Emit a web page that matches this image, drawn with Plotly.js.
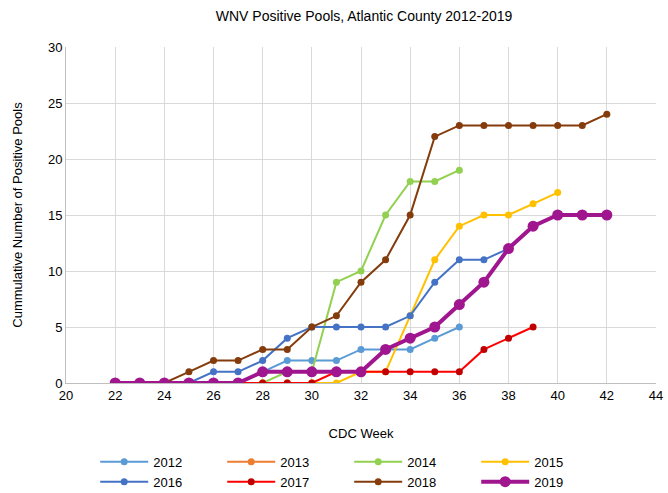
<!DOCTYPE html>
<html>
<head>
<meta charset="utf-8">
<script src="https://cdn.plot.ly/plotly-3.0.1.min.js"></script>
<style>
  body { margin: 0; background: #fff; }
  #plotArea { width: 668px; height: 493px; }
</style>
</head>
<body>
<div id="plotArea"></div>
<script>
// weeks and cumulative positive pools per season
var weeks2012 = [22, 23, 24, 25, 26, 27, 28, 29, 30, 31, 32, 33, 34, 35, 36];
var pools2012 = [0, 0, 0, 0, 0, 0, 1, 2, 2, 2, 3, 3, 3, 4, 5];

var weeks2013 = [22, 23, 24, 25, 26, 27, 28, 29, 30];
var pools2013 = [0, 0, 0, 0, 0, 0, 0, 0, 0];

var weeks2014 = [22, 23, 24, 25, 26, 27, 28, 29, 30, 31, 32, 33, 34, 35, 36];
var pools2014 = [0, 0, 0, 0, 0, 0, 0, 1, 1, 9, 10, 15, 18, 18, 19];

var weeks2015 = [22, 23, 24, 25, 26, 27, 28, 29, 30, 31, 32, 33, 34, 35, 36, 37, 38, 39, 40];
var pools2015 = [0, 0, 0, 0, 0, 0, 0, 0, 0, 0, 1, 1, 6, 11, 14, 15, 15, 16, 17];

var weeks2016 = [22, 23, 24, 25, 26, 27, 28, 29, 30, 31, 32, 33, 34, 35, 36, 37, 38];
var pools2016 = [0, 0, 0, 0, 1, 1, 2, 4, 5, 5, 5, 5, 6, 9, 11, 11, 12];

var weeks2017 = [22, 23, 24, 25, 26, 27, 28, 29, 30, 31, 32, 33, 34, 35, 36, 37, 38, 39];
var pools2017 = [0, 0, 0, 0, 0, 0, 0, 0, 0, 1, 1, 1, 1, 1, 1, 3, 4, 5];

var weeks2018 = [22, 23, 24, 25, 26, 27, 28, 29, 30, 31, 32, 33, 34, 35, 36, 37, 38, 39, 40, 41, 42];
var pools2018 = [0, 0, 0, 1, 2, 2, 3, 3, 5, 6, 9, 11, 15, 22, 23, 23, 23, 23, 23, 23, 24];

var weeks2019 = [22, 23, 24, 25, 26, 27, 28, 29, 30, 31, 32, 33, 34, 35, 36, 37, 38, 39, 40, 41, 42];
var pools2019 = [0, 0, 0, 0, 0, 0, 1, 1, 1, 1, 1, 3, 4, 5, 7, 9, 12, 14, 15, 15, 15];

function season(name, x, y, lineColor, markerColor, width, size) {
    return {
        x: x,
        y: y,
        name: name,
        type: "scatter",
        mode: "lines+markers",
        line: {color: lineColor, width: width},
        marker: {color: markerColor, size: size}
    };
}

var data = [
    season("2012", weeks2012, pools2012, "#5B9BD5", "#5B9BD5", 2, 7),
    season("2013", weeks2013, pools2013, "#ED7D31", "#ED7D31", 2, 7),
    season("2014", weeks2014, pools2014, "#92D050", "#92D050", 2, 7),
    season("2015", weeks2015, pools2015, "#FFC000", "#FFC000", 2, 7),
    season("2016", weeks2016, pools2016, "#4472C4", "#4472C4", 2, 7),
    season("2017", weeks2017, pools2017, "#FF0000", "#C00000", 2, 7),
    season("2018", weeks2018, pools2018, "#843C0C", "#843C0C", 2, 7),
    season("2019", weeks2019, pools2019, "#A0168F", "#A0168F", 4, 11)
];

var layout = {
    width: 668,
    height: 493,
    margin: {l: 66, r: 12, t: 47, b: 110, autoexpand: false},
    paper_bgcolor: "#fff",
    plot_bgcolor: "#fff",
    font: {family: "Liberation Sans, Arial, sans-serif", size: 13, color: "#000"},
    title: {
        text: "WNV Positive Pools, Atlantic County 2012-2019",
        x: 0.545, xanchor: "center", y: 0.968, yanchor: "middle",
        font: {size: 14, color: "#000"}
    },
    xaxis: {
        title: {text: "CDC Week", font: {size: 13}, standoff: 27},
        range: [20, 44],
        dtick: 2,
        tick0: 20,
        showgrid: true,
        gridcolor: "#D9D9D9",
        zeroline: false,
        showline: true,
        linecolor: "#BFBFBF",
        linewidth: 1,
        ticks: "",
        fixedrange: true
    },
    yaxis: {
        title: {text: "Cummulative Number of Positive Pools", font: {size: 13}, standoff: 22},
        range: [0, 30],
        dtick: 5,
        showgrid: true,
        gridcolor: "#D9D9D9",
        zeroline: false,
        showline: true,
        linecolor: "#BFBFBF",
        linewidth: 1,
        ticks: "",
        fixedrange: true
    },
    showlegend: true,
    legend: {
        orientation: "h",
        x: 0.48,
        xanchor: "center",
        y: -0.19,
        yanchor: "top",
        itemwidth: 48,
        entrywidth: 64,
        tracegroupgap: 0,
        font: {size: 13}
    }
};

Plotly.newPlot("plotArea", data, layout, {displayModeBar: false, staticPlot: true});
</script>
</body>
</html>
